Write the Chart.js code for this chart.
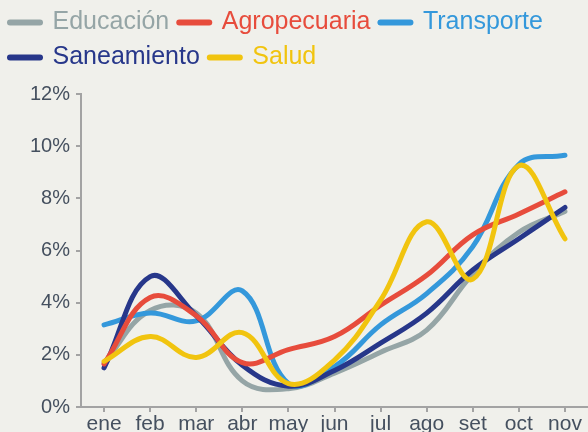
<!DOCTYPE html>
<html>
<head>
    <title>Variación mensual por sector</title>
    <script src="https://cdn.jsdelivr.net/npm/chart.js"></script>
    <style>
        body { margin: 0; overflow: hidden; background: #f0f0eb; }
        #wrap { position: relative; width: 588px; height: 439px; }
    </style>
</head>
<body>
    <div id="wrap"><canvas id="sectorChart"></canvas></div>

    <script>
        const months = ['ene', 'feb', 'mar', 'abr', 'may', 'jun', 'jul', 'ago', 'set', 'oct', 'nov'];

        const educacion    = [1.7, 3.7, 3.6, 1.0, 0.7, 1.3, 2.1, 2.95, 5.1, 6.7, 7.5];
        const agropecuaria = [1.65, 4.2, 3.5, 1.7, 2.2, 2.7, 3.9, 5.05, 6.6, 7.4, 8.25];
        const transporte   = [3.15, 3.6, 3.3, 4.45, 0.9, 1.55, 3.15, 4.35, 6.15, 9.3, 9.65];
        const saneamiento  = [1.5, 5.0, 3.5, 1.6, 0.8, 1.4, 2.45, 3.6, 5.25, 6.45, 7.65];
        const salud        = [1.75, 2.7, 1.9, 2.85, 0.9, 1.8, 4.1, 7.1, 4.9, 9.25, 6.45];

        const seriesNames  = ['Educación', 'Agropecuaria', 'Transporte', 'Saneamiento', 'Salud'];
        const seriesData   = [educacion, agropecuaria, transporte, saneamiento, salud];
        const seriesColors = ['#95a5a6', '#e74c3c', '#3498db', '#27378a', '#f1c40f'];
        const drawOrder    = [4, 1, 3, 2, 0];   // lower = drawn on top

        const axisColor = '#a3a3a3';
        const tickColor = '#45505f';

        const datasets = seriesNames.map((name, i) => ({
            label: name,
            data: seriesData[i],
            borderColor: seriesColors[i],
            backgroundColor: seriesColors[i],
            borderWidth: 5,
            borderCapStyle: 'round',
            pointRadius: 0,
            tension: 0.4,
            fill: false,
            order: drawOrder[i]
        }));

        // extra room between legend and plot
        const legendGap = {
            id: 'legendGap',
            beforeInit(chart) {
                const fit = chart.legend.fit;
                chart.legend.fit = function () {
                    fit.call(this);
                    this.height += 14;
                };
            }
        };

        new Chart(document.getElementById('sectorChart'), {
            type: 'line',
            data: { labels: months, datasets: datasets },
            plugins: [legendGap],
            options: {
                responsive: true,
                maintainAspectRatio: false,
                animation: false,
                layout: { padding: 0 },
                plugins: {
                    tooltip: { enabled: false },
                    legend: {
                        position: 'top',
                        align: 'start',
                        labels: {
                            usePointStyle: true,
                            pointStyleWidth: 30,
                            padding: 10,
                            font: { family: 'Liberation Sans', size: 25 },
                            generateLabels: () => seriesNames.map((name, i) => ({
                                text: name,
                                fillStyle: seriesColors[i],
                                strokeStyle: seriesColors[i],
                                fontColor: seriesColors[i],
                                lineWidth: 6,
                                lineCap: 'round',
                                pointStyle: 'line',
                                hidden: false,
                                datasetIndex: i
                            }))
                        }
                    }
                },
                scales: {
                    x: {
                        offset: true,
                        afterFit: scale => { scale.height = 32; },
                        grid: { display: true, drawOnChartArea: false, drawTicks: true, tickLength: 5, color: axisColor, lineWidth: 2 },
                        border: { color: axisColor, width: 2 },
                        ticks: { color: tickColor, padding: 0, maxRotation: 0, autoSkip: false, font: { family: 'Liberation Sans', size: 21 } }
                    },
                    y: {
                        min: 0,
                        max: 12,
                        afterFit: scale => { scale.width = 81; },
                        grid: { display: true, drawOnChartArea: false, drawTicks: true, tickLength: 5, color: axisColor, lineWidth: 2 },
                        border: { color: axisColor, width: 2 },
                        ticks: {
                            stepSize: 2,
                            padding: 6,
                            color: tickColor,
                            font: { family: 'Liberation Sans', size: 20 },
                            callback: v => v + '%'
                        }
                    }
                }
            }
        });
    </script>
</body>
</html>
